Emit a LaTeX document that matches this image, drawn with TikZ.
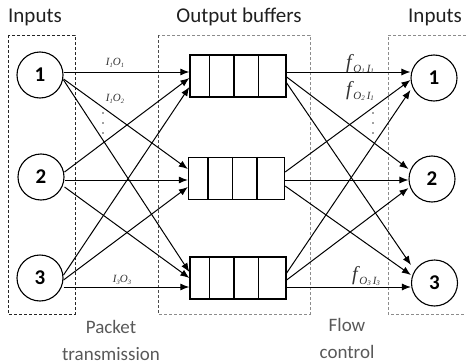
\documentclass[tikz,border=0pt]{standalone}
\usepackage{fontspec}
\setmainfont{Carlito}
\newfontfamily\tms{Liberation Serif}
\usetikzlibrary{arrows.meta,calc}
\definecolor{txtgrey}{HTML}{595959}
\definecolor{boxgrey}{HTML}{8C8C8C}
\newcommand\sbs[1]{\raisebox{-0.35ex}{\fontsize{6.5}{6.5}\selectfont #1}}
\newcommand\sbt[1]{\raisebox{-0.3ex}{\fontsize{7}{7}\selectfont #1}}
\begin{document}
\begin{tikzpicture}[x=1pt,y=-1pt,
  title/.style={font=\fontsize{21}{24}\selectfont,text=black!88,inner sep=0},
  note/.style={font=\fontsize{19}{24}\selectfont,text=txtgrey,align=center,inner sep=0},
  port/.style={circle,draw,line width=1.1pt,minimum size=46pt,inner sep=0,font=\bfseries\fontsize{21}{21}\selectfont},
  buf/.style={draw,line width=1.3pt,minimum width=96pt,minimum height=42pt,inner sep=0},
  conn/.style={line width=1pt,-{Latex[length=9pt,width=7pt]}},
  dbox/.style={dashed,dash pattern=on 3pt off 2pt,line width=0.7pt},
  small/.style={font=\tms\itshape\fontsize{11}{11}\selectfont,text=black!80,inner sep=0},
  big/.style={font=\tms\itshape\fontsize{20}{20}\selectfont,text=black!80,inner sep=0}]
\useasboundingbox (0,0) rectangle (466,364);

% dashed boxes
\draw[dbox,black!85] (8,35) rectangle (75,314);
\draw[dbox,boxgrey] (158,35) rectangle (310,314);
\draw[dbox,black!70] (158,35) -- (158,314);
\draw[dbox,boxgrey] (466,35) -- (388,35) -- (388,314) -- (466,314);

% titles
\node[title] (tin) at (35,17) {Inputs};
\node[title] (tbuf) at (239,17) {Output buffers};
\node[title] (tout) at (435,17) {Inputs};
\node[note] (tpk) at (111,340) {Packet\\[3pt]transmission};
\node[note] (tfc) at (347,338) {Flow\\[3pt]control};

% nodes
\node[port] (L1) at (40,75) {1};
\node[port] (L2) at (41,177) {2};
\node[port] (L3) at (40,278) {3};
\node[port] (R1) at (434,78) {1};
\node[port] (R2) at (432,179) {2};
\node[port] (R3) at (434.5,283) {3};
\node[buf] (B1) at (238,76) {};
\node[buf] (B2) at (236.5,178.5) {};
\node[buf] (B3) at (238,278) {};
\foreach \b in {B1,B2,B3}
  \foreach \o in {20,44.5,69}
    \draw[line width=1.3pt] ([xshift=\o pt]\b.north west) -- ([xshift=\o pt]\b.south west);

% inputs -> buffers
\draw[conn] ([yshift=3pt]L1.east) -- ([yshift=4pt]B1.west);
\draw[conn] ([yshift=-4pt]L1.east) -- ([yshift=9.5pt]B2.west);
\draw[conn] ([yshift=-5pt]L1.east) -- ([yshift=6pt]B3.west);
\draw[conn] ([yshift=5pt]L2.east) -- ([yshift=-2pt]B1.west);
\draw[conn] ([yshift=-3pt]L2.east) -- ([yshift=-1.5pt]B2.west);
\draw[conn] ([yshift=-10pt]L2.east) -- ([yshift=0pt]B3.west);
\draw[conn] ([yshift=3pt]L3.east) -- ([yshift=-11pt]B1.west);
\draw[conn] ([yshift=-2pt]L3.east) -- ([yshift=-8.5pt]B2.west);
\draw[conn] ([yshift=-9pt]L3.east) -- ([yshift=-9pt]B3.west);

% buffers -> outputs
\draw[conn] ([yshift=4pt]B1.east) -- ([yshift=6pt]R1.west);
\draw[conn] ([yshift=-1pt]B1.east) -- ([yshift=10pt]R2.west);
\draw[conn] ([yshift=-7pt]B1.east) -- ([yshift=18pt]R3.west);
\draw[conn] ([yshift=6.5pt]B2.east) -- ([yshift=-2pt]R1.west);
\draw[conn] ([yshift=-1.5pt]B2.east) -- ([yshift=-1pt]R2.west);
\draw[conn] ([yshift=-7.5pt]B2.east) -- ([yshift=8pt]R3.west);
\draw[conn] ([yshift=5pt]B3.east) -- ([yshift=-12pt]R1.west);
\draw[conn] ([yshift=-2pt]B3.east) -- ([yshift=-9pt]R2.west);
\draw[conn] ([yshift=-9pt]B3.east) -- ([yshift=-4pt]R3.west);

% labels
\node[small] (l11) at (115,63) {I\sbs{1}O\sbs{1}};
\node[small] (l12) at (115,99) {I\sbs{1}O\sbs{2}};
\node[small] (l33) at (122,280) {I\sbs{3}O\sbs{3}};
\node[big] (f11) at (360,64) {f\raisebox{-4pt}{\fontsize{11}{11}\selectfont\,O\sbt{1}\,I\sbt{1}}};
\node[big] (f21) at (360,91) {f\raisebox{-4pt}{\fontsize{11}{11}\selectfont\,O\sbt{2}\,I\sbt{1}}};
\node[big] (f33) at (366,276) {f\raisebox{-4pt}{\fontsize{11}{11}\selectfont\,O\sbt{3}\,I\sbt{3}}};

% dots
\foreach \y in {113,123,133} {
  \fill[black!75] (103,\y) circle (0.8pt);
  \fill[black!75] (373,\y) circle (0.8pt);
}
\end{tikzpicture}
\end{document}
